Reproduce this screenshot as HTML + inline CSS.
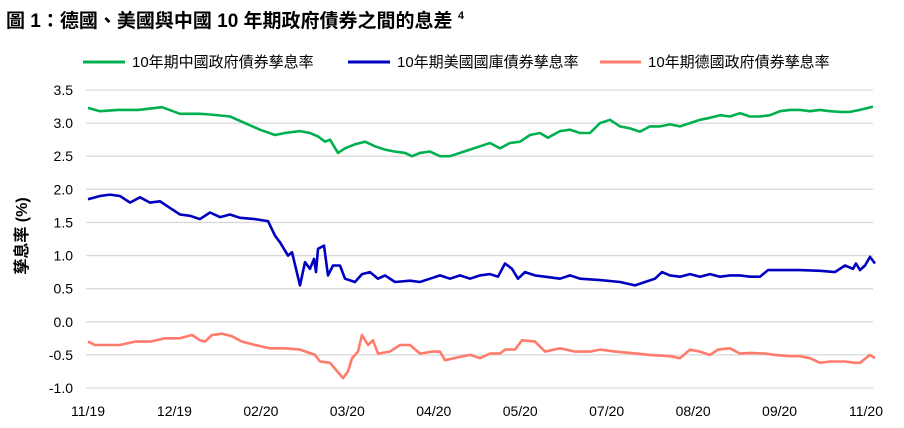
<!DOCTYPE html>
<html><head><meta charset="utf-8"><style>
body{margin:0;background:#fff;width:904px;height:423px;overflow:hidden;font-family:"Liberation Sans","Noto Sans CJK TC",sans-serif}
svg text{font-family:"Liberation Sans","Noto Sans CJK TC",sans-serif}
</style></head><body>
<svg id="c" width="904" height="423">
<text x="6" y="27" font-size="19" font-weight="bold" fill="#000">圖 1：德國、美國與中國 10 年期政府債券之間的息差 <tspan font-size="11" dy="-8">4</tspan></text>
<g>
<line x1="83" y1="62" x2="125" y2="62" stroke="#00b050" stroke-width="3"/>
<text x="132" y="67" font-size="15">10年期中國政府債券孳息率</text>
<line x1="348" y1="62" x2="390" y2="62" stroke="#0000c0" stroke-width="3"/>
<text x="397" y="67" font-size="15">10年期美國國庫債券孳息率</text>
<line x1="600" y1="62" x2="641" y2="62" stroke="#ff7b6b" stroke-width="3"/>
<text x="648" y="67" font-size="15">10年期德國政府債券孳息率</text>
</g>
<text transform="translate(27,236) rotate(-90)" text-anchor="middle" font-size="16" font-weight="bold">孳息率 (%)</text>
<g id="grid"></g><g id="series"></g>
</svg>
<script>
const yTicks=[3.5,3.0,2.5,2.0,1.5,1.0,0.5,0.0,-0.5,-1.0];
const yTickLabels=["3.5","3.0","2.5","2.0","1.5","1.0","0.5","0.0","-0.5","-1.0"];
const xTickLabels=["11/19","12/19","02/20","03/20","04/20","05/20","07/20","08/20","09/20","11/20"];
// day index (0..787 scale across period) and yields
const chinaDays=[0,12,30,50,74,92,112,122,142,157,172,187,197,212,222,230,237,242,250,257,267,277,287,297,307,317,324,332,342,352,362,372,382,392,402,412,422,432,442,452,460,472,482,492,502,512,522,532,542,552,562,572,582,592,602,612,622,632,642,652,662,672,682,692,702,712,722,732,742,752,762,772,785];
const chinaVals=[3.23,3.18,3.2,3.2,3.24,3.14,3.14,3.13,3.1,3.0,2.9,2.82,2.85,2.88,2.85,2.8,2.72,2.75,2.55,2.62,2.68,2.72,2.65,2.6,2.57,2.55,2.5,2.55,2.57,2.5,2.5,2.55,2.6,2.65,2.7,2.62,2.7,2.72,2.82,2.85,2.78,2.88,2.9,2.85,2.85,3.0,3.05,2.95,2.92,2.87,2.95,2.95,2.98,2.95,3.0,3.05,3.08,3.12,3.1,3.15,3.1,3.1,3.12,3.18,3.2,3.2,3.18,3.2,3.18,3.17,3.17,3.2,3.25];
const usDays=[0,12,22,32,37,42,52,62,72,82,92,102,112,122,132,142,152,167,180,187,192,200,204,212,217,222,226,228,230,236,240,245,252,257,267,274,282,290,297,307,322,332,342,352,362,372,382,392,402,410,417,424,430,437,447,457,472,482,492,512,532,547,557,567,574,582,592,602,612,622,632,642,652,662,672,680,692,712,732,747,757,765,768,772,777,782,787];
const usVals=[1.85,1.9,1.92,1.9,1.85,1.8,1.88,1.8,1.82,1.72,1.62,1.6,1.55,1.65,1.58,1.62,1.57,1.55,1.52,1.3,1.2,1.0,1.05,0.55,0.9,0.8,0.95,0.75,1.1,1.15,0.7,0.85,0.85,0.65,0.6,0.72,0.75,0.65,0.7,0.6,0.62,0.6,0.65,0.7,0.65,0.7,0.65,0.7,0.72,0.68,0.88,0.8,0.65,0.75,0.7,0.68,0.65,0.7,0.65,0.63,0.6,0.55,0.6,0.65,0.75,0.7,0.68,0.72,0.68,0.72,0.68,0.7,0.7,0.68,0.68,0.78,0.78,0.78,0.77,0.75,0.85,0.8,0.88,0.78,0.85,0.98,0.88];
const deDays=[0,7,32,47,62,77,92,104,112,117,124,134,144,154,167,182,197,212,227,232,242,255,260,264,270,274,280,285,290,302,312,322,332,344,352,357,372,382,392,402,412,417,427,434,447,457,472,487,502,512,527,542,562,582,592,602,612,622,630,642,652,662,677,687,702,712,722,732,742,757,767,772,782,787];
const deVals=[-0.3,-0.35,-0.35,-0.3,-0.3,-0.25,-0.25,-0.2,-0.28,-0.3,-0.2,-0.18,-0.22,-0.3,-0.35,-0.4,-0.4,-0.42,-0.5,-0.6,-0.62,-0.85,-0.75,-0.55,-0.45,-0.2,-0.35,-0.28,-0.48,-0.45,-0.35,-0.35,-0.48,-0.45,-0.45,-0.58,-0.53,-0.5,-0.55,-0.48,-0.48,-0.42,-0.42,-0.28,-0.3,-0.45,-0.4,-0.45,-0.45,-0.42,-0.45,-0.47,-0.5,-0.52,-0.55,-0.42,-0.45,-0.5,-0.42,-0.4,-0.48,-0.47,-0.48,-0.5,-0.52,-0.52,-0.55,-0.62,-0.6,-0.6,-0.62,-0.62,-0.5,-0.55];
const NS="http://www.w3.org/2000/svg";
const X0=88,X1=875,Y0=90,Y1=388;
const x=d=>X0+(d/787)*(X1-X0);
const y=v=>Y0+(3.5-v)/4.5*(Y1-Y0);
const grid=document.getElementById('grid'),ser=document.getElementById('series');
yTicks.forEach((t,i)=>{
 const l=document.createElementNS(NS,'line');
 l.setAttribute('x1',86);l.setAttribute('x2',873);l.setAttribute('y1',y(t));l.setAttribute('y2',y(t));
 l.setAttribute('stroke','#d9d9d9');l.setAttribute('stroke-width','1.3');
 
 
 grid.appendChild(l);
 const tx=document.createElementNS(NS,'text');
 tx.setAttribute('x',73);tx.setAttribute('y',y(t)+5);tx.setAttribute('text-anchor','end');tx.setAttribute('font-size','14');
 tx.textContent=yTickLabels[i];
 
 
 grid.appendChild(tx);
});
xTickLabels.forEach((s,i)=>{
 const tx=document.createElementNS(NS,'text');
 tx.setAttribute('x',88+i*(866-88)/9);tx.setAttribute('y',416);tx.setAttribute('text-anchor','middle');tx.setAttribute('font-size','14');
 tx.textContent=s;
 
 
 grid.appendChild(tx);
});
function line(ds,vs,col,name){
 const p=document.createElementNS(NS,'polyline');
 p.setAttribute('points',ds.map((d,i)=>x(d).toFixed(1)+','+y(vs[i]).toFixed(1)).join(' '));
 p.setAttribute('fill','none');p.setAttribute('stroke',col);p.setAttribute('stroke-width','2.6');p.setAttribute('stroke-linejoin','round');
 
 
 ser.appendChild(p);
}
line(chinaDays,chinaVals,'#00b050','china-yield-line');
line(usDays,usVals,'#0000c0','us-yield-line');
line(deDays,deVals,'#ff7b6b','germany-yield-line');
</script>
</body></html>
